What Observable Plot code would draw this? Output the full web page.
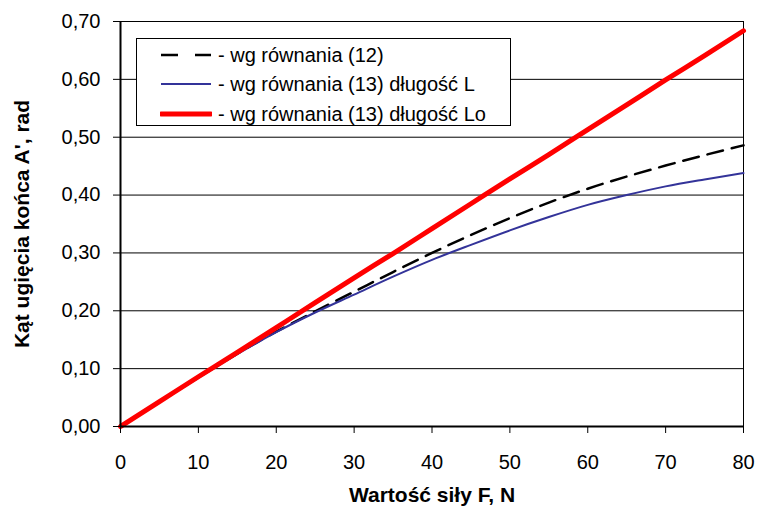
<!DOCTYPE html>
<html>
<head>
<meta charset="utf-8">
<script src="https://cdn.jsdelivr.net/npm/d3@7"></script>
<script src="https://cdn.jsdelivr.net/npm/@observablehq/plot@0.6"></script>
<style>
  html, body { margin: 0; padding: 0; background: #fff; }
  #wrap { position: relative; width: 757px; height: 508px; font-family: "Liberation Sans", Arial, sans-serif; }
  #legend { position: absolute; left: 136px; top: 38px; width: 375px; height: 88px; border: 1px solid #000; background: #fff; box-sizing: border-box; }
  .row { position: absolute; left: 0; height: 24px; display: flex; align-items: center; font-size: 20px; color: #000; white-space: nowrap; }
  .row svg { margin-left: 23px; margin-right: 6px; }
</style>
</head>
<body>
<div id="wrap"></div>
<script>
// Data
const forces = [0, 5, 10, 15, 20, 25, 30, 35, 40, 45, 50, 55, 60, 65, 70, 75, 80];
const eq12 = [0, 0.043, 0.085, 0.126, 0.164, 0.199, 0.233, 0.267, 0.300, 0.331, 0.360, 0.387, 0.411, 0.432, 0.451, 0.469, 0.486];
const eq13L = [0, 0.042, 0.084, 0.125, 0.163, 0.197, 0.228, 0.259, 0.288, 0.314, 0.339, 0.362, 0.383, 0.400, 0.415, 0.427, 0.438];
const eq13Lo = [0, 0.043, 0.086, 0.128, 0.171, 0.214, 0.257, 0.299, 0.342, 0.385, 0.428, 0.470, 0.513, 0.556, 0.599, 0.641, 0.684];
const xTicks = [0, 10, 20, 30, 40, 50, 60, 70, 80];
const yTicks = [0, 0.1, 0.2, 0.3, 0.4, 0.5, 0.6, 0.7];
const seriesNames = ["- wg równania (12)", "- wg równania (13) długość L", "- wg równania (13) długość Lo"];
const xTitle = "Wartość siły F, N";
const yTitle = "Kąt ugięcia końca A', rad";

const rows = (vals) => forces.map((f, i) => ({F: f, v: vals[i]}));
const fmt = d => d.toFixed(2).replace(".", ",");

const chart = Plot.plot({
  width: 757,
  height: 508,
  marginLeft: 120,
  marginRight: 14,
  marginTop: 21,
  marginBottom: 82,
  style: {fontFamily: '"Liberation Sans", Arial, sans-serif', fontSize: "20px", color: "#000", background: "#fff", overflow: "visible"},
  x: {domain: [0, 80]},
  y: {domain: [0, 0.7]},
  marks: [
    Plot.gridY(yTicks, {stroke: "#000", strokeOpacity: 1, strokeWidth: 1}),
    Plot.ruleX([80], {stroke: "#000", strokeWidth: 1}),
    Plot.line(rows(eq12), {x: "F", y: "v", stroke: "#000", strokeWidth: 2.5, strokeDasharray: "16,9", curve: "monotone-x"}),
    Plot.line(rows(eq13L), {x: "F", y: "v", stroke: "#333399", strokeWidth: 2, curve: "monotone-x"}),
    Plot.line(rows(eq13Lo), {x: "F", y: "v", stroke: "#ff0000", strokeWidth: 5, curve: "monotone-x"}),
    Plot.axisY({ticks: yTicks, tickFormat: fmt, tickSize: 7, tickPadding: 13, label: null, stroke: "#000"}),
    Plot.axisX({ticks: xTicks, tickSize: 7, tickPadding: 21, label: null, stroke: "#000"}),
    Plot.ruleX([0], {stroke: "#000", strokeWidth: 2}),
    Plot.ruleY([0], {stroke: "#000", strokeWidth: 2}),
    Plot.text([xTitle], {frameAnchor: "bottom", dy: 75, fontWeight: "bold", fontSize: 21, fill: "#000"}),
    Plot.text([yTitle], {frameAnchor: "left", textAnchor: "middle", rotate: -90, dx: -98, fontWeight: "bold", fontSize: 21, fill: "#000"})
  ]
});

const wrap = document.getElementById("wrap");
wrap.appendChild(chart);

// Legend
const legend = document.createElement("div");
legend.id = "legend";
const swatches = [
  {stroke: "#000", width: 2.5, dash: "17,17"},
  {stroke: "#333399", width: 2, dash: null},
  {stroke: "#ff0000", width: 5, dash: null}
];
const rowTops = [4, 33, 63];
seriesNames.forEach((name, i) => {
  const r = document.createElement("div");
  r.className = "row";
  r.style.top = rowTops[i] + "px";
  const s = swatches[i];
  r.innerHTML = `<svg width="52" height="10"><line x1="1" y1="5" x2="51" y2="5" stroke="${s.stroke}" stroke-width="${s.width}" ${s.dash ? `stroke-dasharray="${s.dash}"` : ""} stroke-linecap="${i === 2 ? "round" : "butt"}"/></svg><span></span>`;
  r.querySelector("span").textContent = name;
  legend.appendChild(r);
});
wrap.appendChild(legend);
</script>
</body>
</html>
